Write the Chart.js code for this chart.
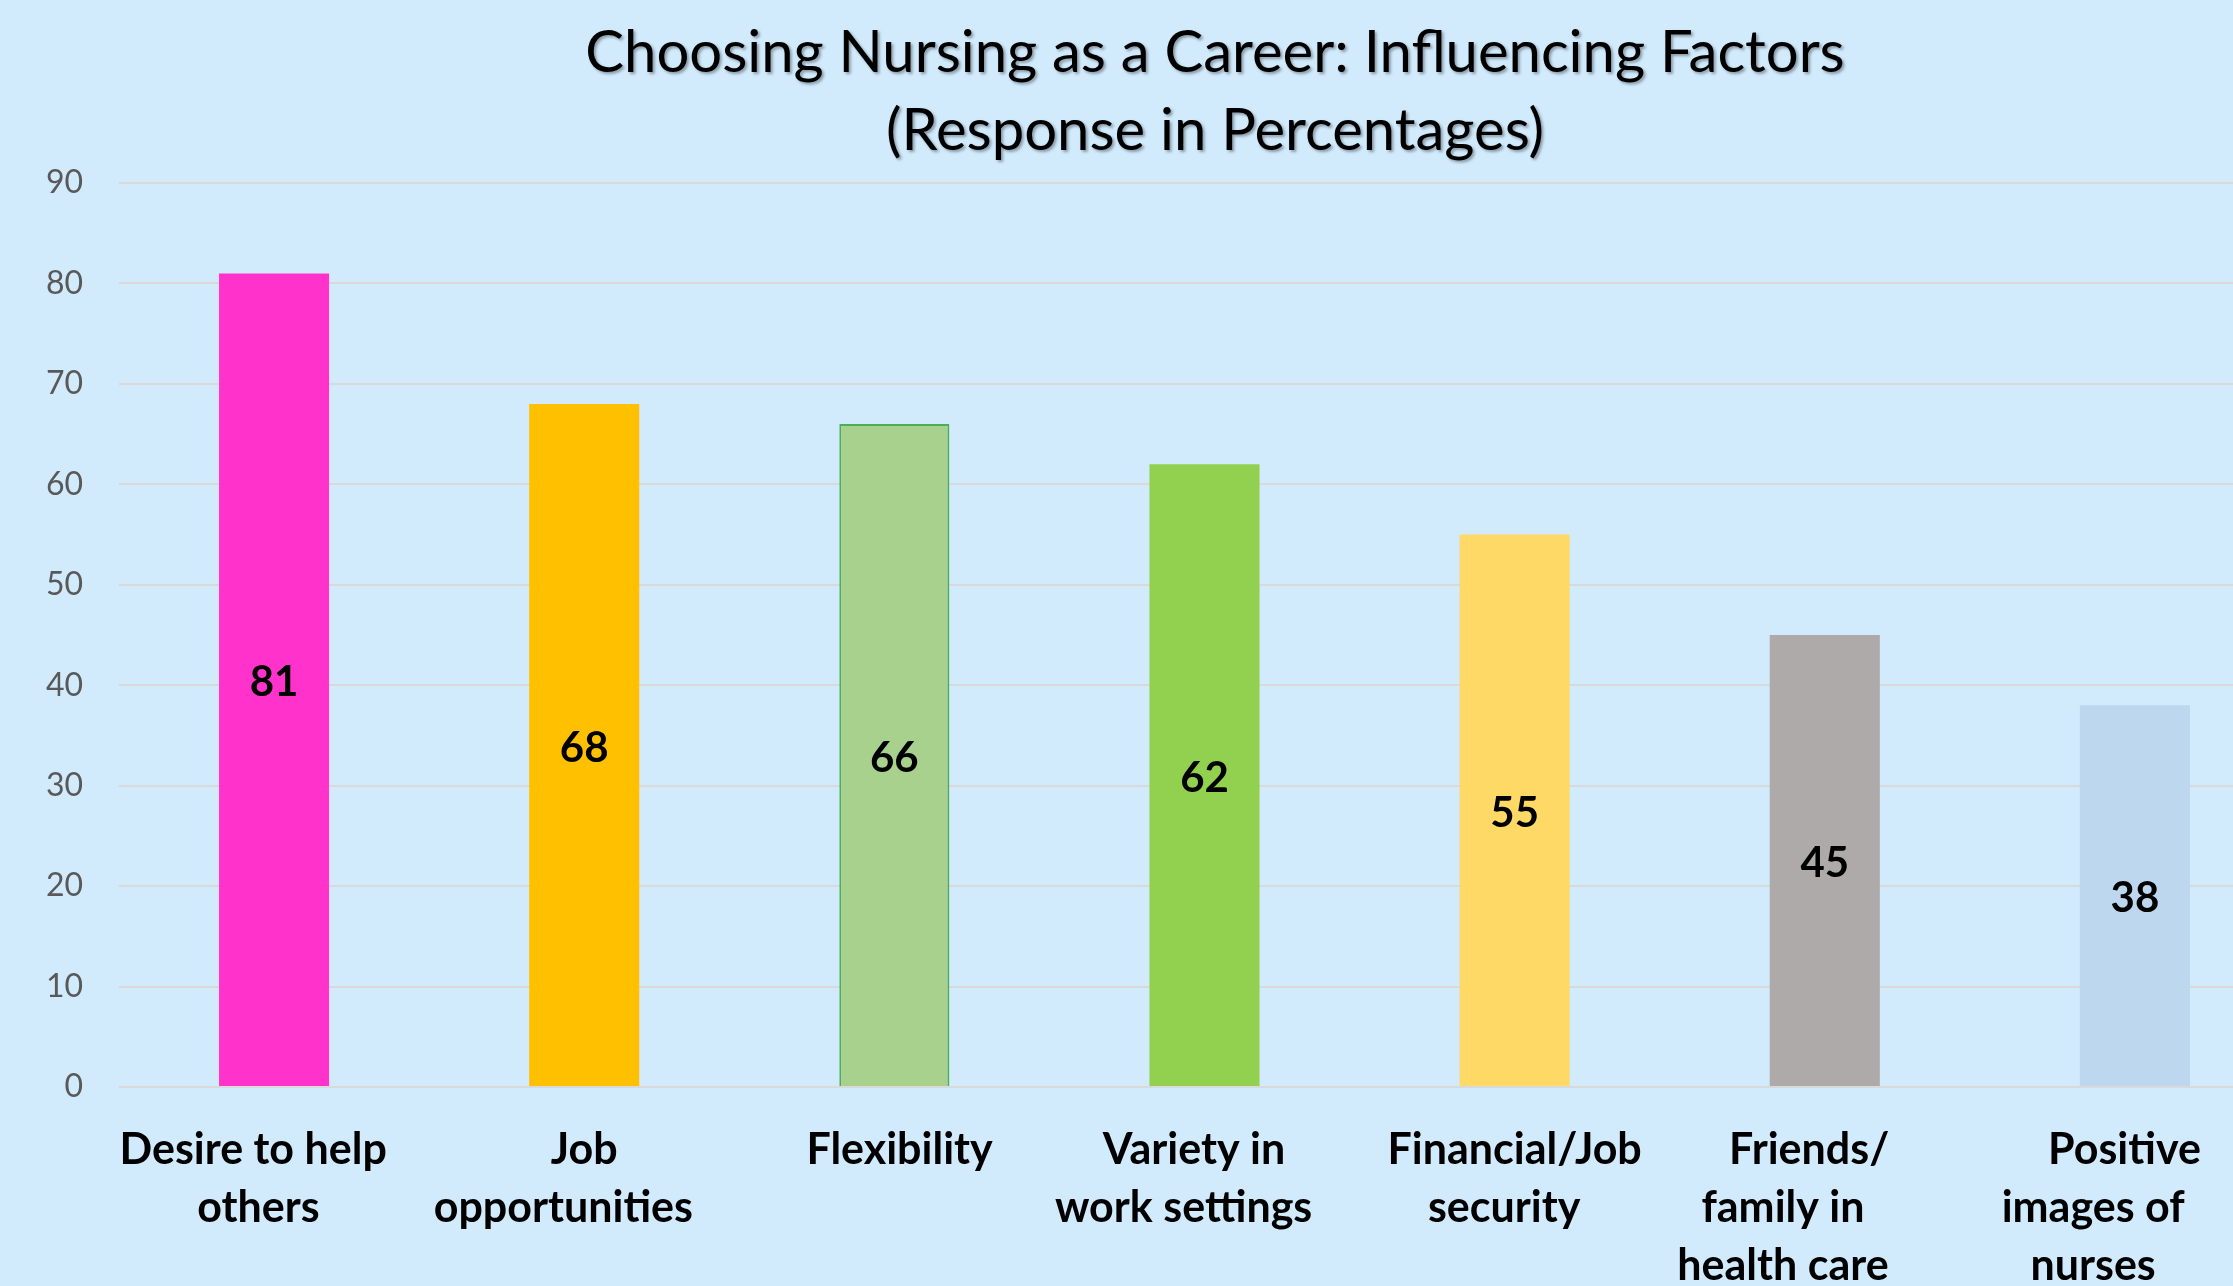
<!DOCTYPE html>
<html>
<head>
<meta charset="utf-8">
<script src="https://cdn.jsdelivr.net/npm/chart.js@4.4.0/dist/chart.umd.min.js"></script>
<style>
  html, body { margin: 0; padding: 0; overflow: hidden; background: #D1EBFD; }
  canvas { display: block; }
</style>
</head>
<body>
<canvas id="mycanvas" width="2290" height="1286"></canvas>
<script>
// trailing/leading spaces nudge lines the way the original wraps them
const categories = [
    ["Desire to help    ", "others   "],
    ["Job", "opportunities    "],
    [" Flexibility"],
    ["Variety in  ", "work settings    "],
    ["Financial/Job", "security  "],
    ["Friends/   ", "family in        ", "health care        "],
    ["Positive  ", "images of        ", "nurses        "]
];
const values = [81, 68, 66, 62, 55, 45, 38];
const barColors = ["#FF33CC", "#FFC000", "#A9D18E", "#92D050", "#FFD966", "#AEAAAA", "#BDD7EE"];
const yTicks = [0, 10, 20, 30, 40, 50, 60, 70, 80, 90];

Chart.defaults.font.family = "Lato";

// numbers in the middle of each bar
const barLabels = {
    id: "barLabels",
    afterDatasetsDraw(chart) {
        const c = chart.ctx;
        const meta = chart.getDatasetMeta(0);
        c.save();
        c.font = "bold 42px Lato";
        c.fillStyle = "#000";
        c.textAlign = "center";
        c.textBaseline = "middle";
        meta.data.forEach((bar, i) => {
            const p = bar.getProps(["x", "y", "base"], true);
            c.fillText(String(values[i]), p.x, (p.y + p.base) / 2 + 3);
        });
        c.restore();
    }
};

// soft shadow on the title, and shift it to where it sits in the original
const titleShadow = {
    id: "titleShadow",
    afterLayout(chart) {
        const t = chart.titleBlock;
        if (!t || t._shadowed) return;
        const orig = t.draw.bind(t);
        t.draw = function () {
            const c = this.ctx;
            c.save();
            c.translate(70, 0);
            c.shadowColor = "rgba(0,0,0,0.35)";
            c.shadowOffsetX = 2;
            c.shadowOffsetY = 2;
            c.shadowBlur = 3;
            orig();
            c.restore();
        };
        t._shadowed = true;
    }
};

const ctx = document.getElementById("mycanvas").getContext("2d");

var chart = new Chart(ctx, {
    type: "bar",
    data: {
        labels: categories,
        datasets: [
            {
                data: values,
                backgroundColor: barColors,
                borderColor: ["#FF33CC", "#FFC000", "#4EAD5B", "#92D050", "#FFD966", "#AEAAAA", "#BDD7EE"],
                borderWidth: [0, 0, 2, 0, 0, 0, 0],
                borderSkipped: "bottom",
                categoryPercentage: 1,
                barPercentage: 0.355
            }
        ]
    },
    options: {
        responsive: false,
        animation: false,
        layout: { padding: 0 },
        plugins: {
            legend: { display: false },
            tooltip: { enabled: false },
            title: {
                display: true,
                text: ["Choosing Nursing as a Career: Influencing Factors", "(Response in Percentages)"],
                color: "#000",
                font: { size: 58, weight: "normal", lineHeight: 1.345 },
                padding: { top: 14, bottom: 13 }
            }
        },
        scales: {
            x: {
                grid: { display: false },
                border: { display: false },
                ticks: {
                    color: "#000",
                    font: { size: 43, weight: "bold", lineHeight: 1.35 },
                    padding: 26,
                    maxRotation: 0,
                    autoSkip: false
                },
                afterFit(scale) {
                    scale.height = 199;
                    scale.paddingLeft = 0;
                    scale.paddingRight = 0;
                }
            },
            y: {
                min: 0,
                max: 90,
                afterBuildTicks(scale) { scale.ticks = yTicks.map(v => ({ value: v })); },
                grid: { color: "#D9D9D9", lineWidth: 2, drawTicks: false },
                border: { display: false },
                ticks: {
                    color: "#595959",
                    font: { size: 32 },
                    padding: 36
                },
                afterFit(scale) { scale.width = 119; }
            }
        }
    },
    plugins: [barLabels, titleShadow]
});
</script>
</body>
</html>
